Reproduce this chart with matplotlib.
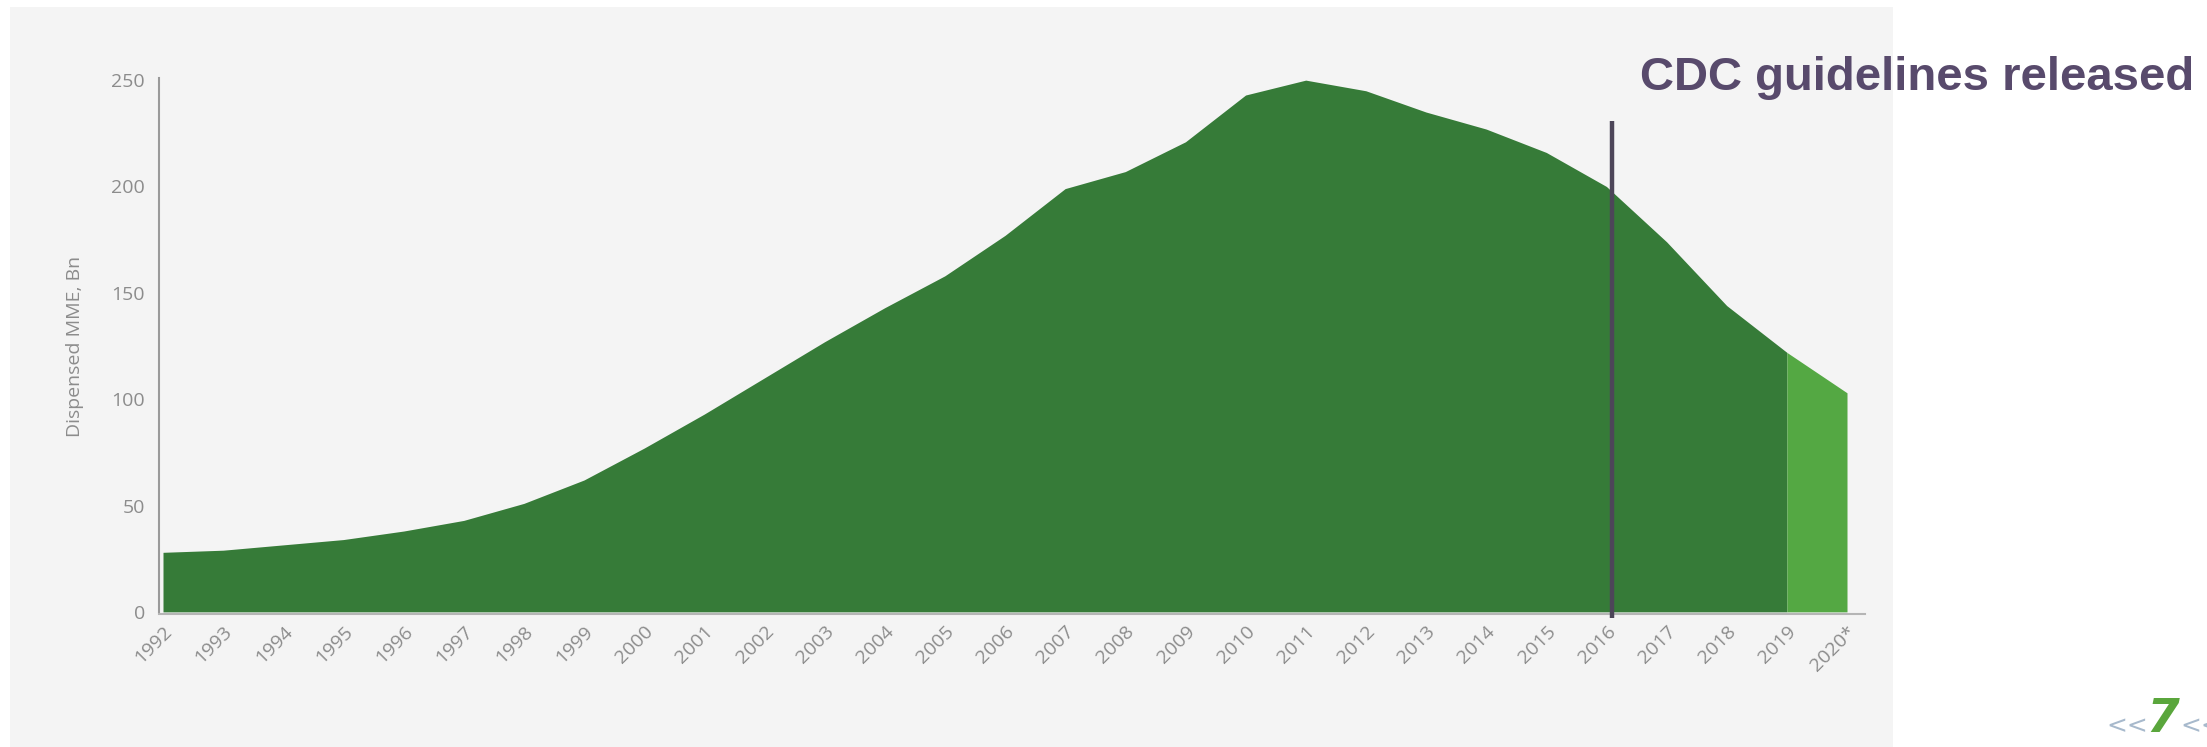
import numpy as np
import matplotlib
matplotlib.use("Agg")
import matplotlib.pyplot as plt
from matplotlib.patches import Rectangle

# dispensed morphine milligram equivalents, billions
years = list(range(1992, 2021))
year_labels = [str(y) for y in years[:-1]] + ["2020*"]
mme_bn = [28, 29, 31.5, 34, 38, 43, 51, 62, 77, 93, 110, 127, 143, 158, 177,
          199, 207, 221, 243, 250, 245, 235, 227, 216, 200, 174, 144, 122, 103]
projected_from = 2019
guideline_year = 2016.1
guideline_label = "CDC guidelines released"
y_ticks = [0, 50, 100, 150, 200, 250]

W, H = 2207, 747
fig = plt.figure(figsize=(W / 100, H / 100), dpi=100)
fig.patch.set_facecolor("white")

# light grey slide panel behind the chart
fig.patches.append(Rectangle((10 / W, 0), (1893 - 10) / W, 1 - 7 / H,
                             transform=fig.transFigure, facecolor="#f4f4f4",
                             edgecolor="none", zorder=-5))

ax_left, ax_right = 159 / W, 1865 / W
ax_bottom, ax_top = 1 - 614 / H, 1 - 78 / H
ax = fig.add_axes([ax_left, ax_bottom, ax_right - ax_left, ax_top - ax_bottom])
ax.set_facecolor("none")
ax.set_zorder(1)

x = np.array(years, dtype=float)
y = np.array(mme_bn, dtype=float)
hist = x <= projected_from
proj = x >= projected_from

ax.fill_between(x[hist], 0, y[hist], color="#367b38", linewidth=0, zorder=2)
ax.fill_between(x[proj], 0, y[proj], color="#54a843", linewidth=0, zorder=2)

ax.set_xlim(1992 - 4 / 60.14, 2020 + 18 / 60.14)
ax.set_ylim(-1, 251)

ax.vlines(guideline_year, -3, 231, color="#4d4659", linewidth=3.2, zorder=3,
          clip_on=False)
fig.text(1640 / W, 1 - 78 / H, guideline_label, fontsize=34, fontweight="bold",
         family="Liberation Sans", color="#584a6c", ha="left", va="center",
         zorder=5)

for side in ["top", "right"]:
    ax.spines[side].set_visible(False)
ax.spines["left"].set_color("#9a9a9a")
ax.spines["left"].set_linewidth(1.5)
ax.spines["left"].set_bounds(0, 251)
ax.spines["bottom"].set_color("#b5b5b5")
ax.spines["bottom"].set_linewidth(1.5)

ax.set_yticks(y_ticks)
ax.set_yticklabels([str(t) for t in y_ticks], family="Open Sans", fontsize=14,
                   color="#8c8c8c")
ax.set_xticks(years)
ax.set_xticklabels(year_labels, rotation=45, ha="right", rotation_mode="anchor",
                   family="Open Sans", fontsize=14, color="#8c8c8c")
ax.tick_params(axis="both", length=0)
ax.tick_params(axis="y", pad=10)
ax.tick_params(axis="x", pad=6)
ax.set_ylabel("Dispensed MME, Bn", family="Open Sans", fontsize=14,
              color="#8c8c8c", labelpad=20)

# page number mark in the corner
fig.text(2106 / W, 1 - 726 / H, "<<", fontsize=18, color="#a7b9cc",
         family="DejaVu Sans", ha="left", va="center")
fig.text(2146 / W, 1 - 720 / H, "7", fontsize=34, color="#5aa63c",
         fontweight="bold", style="italic", family="DejaVu Sans",
         ha="left", va="center")
fig.text(2180 / W, 1 - 726 / H, "<<", fontsize=18, color="#a7b9cc",
         family="DejaVu Sans", ha="left", va="center")

fig.savefig("out.png", dpi=100)
